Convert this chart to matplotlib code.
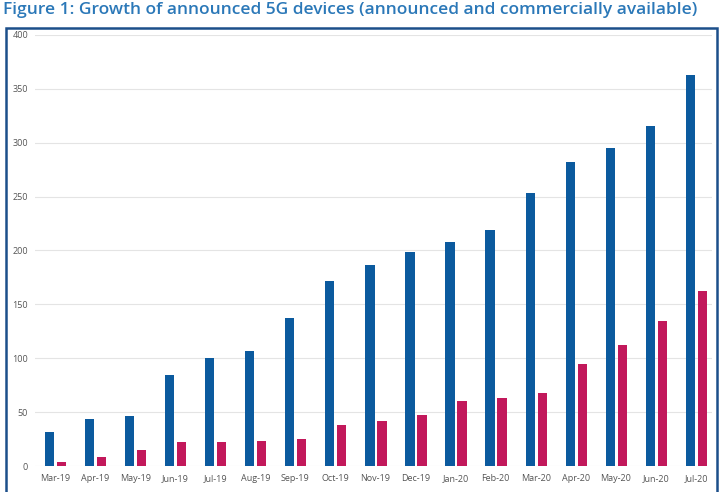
import matplotlib
matplotlib.use("Agg")
import matplotlib.pyplot as plt
import numpy as np
from matplotlib.patches import Rectangle

months = ["Mar-19", "Apr-19", "May-19", "Jun-19", "Jul-19", "Aug-19", "Sep-19",
          "Oct-19", "Nov-19", "Dec-19", "Jan-20", "Feb-20", "Mar-20", "Apr-20",
          "May-20", "Jun-20", "Jul-20"]
announced = [32, 44, 46, 84, 100, 107, 137, 172, 187, 199, 208, 219, 253, 282, 295, 316, 363]
available = [4, 8, 15, 22, 22, 23, 25, 38, 42, 47, 60, 63, 68, 95, 112, 135, 162]
yticks = [0, 50, 100, 150, 200, 250, 300, 350, 400]

blue = "#0b5a9e"
pink = "#c2185b"

plt.rcParams['font.family'] = ['Open Sans', 'DejaVu Sans']

fig = plt.figure(figsize=(7.21, 4.92), dpi=100)
ax = fig.add_axes([35/721, 26/492, 677/721, 431/492])

x = np.arange(len(months))
w = 0.23
ax.bar(x - 0.14, announced, width=w, color=blue, zorder=3)
ax.bar(x + 0.16, available, width=w, color=pink, zorder=3)

ax.set_xlim(-0.5, 16.4)
ax.set_ylim(0, 400)
ax.set_yticks(yticks)
ax.set_xticks(x)
ax.set_xticklabels(months)
ax.tick_params(axis="both", length=0, labelsize=6.5, labelcolor="#555555")
ax.tick_params(axis="y", pad=5)
ax.tick_params(axis="x", pad=6)
ax.grid(axis="y", color="#e4e4e4", linewidth=0.8, zorder=0)
for s in ax.spines.values():
    s.set_visible(False)

# blue frame round the chart
fig.patches.append(Rectangle((6/721, -0.05), 711/721, 1.05 - 28/492,
                             transform=fig.transFigure, fill=False,
                             edgecolor="#1c4f8a", linewidth=1.8))

fig.text(3/721, 1.0 - 14/492, "Figure 1: Growth of announced 5G devices (announced and commercially available)",
         color="#2b78b8", fontsize=12.5, fontweight="semibold", ha="left", va="baseline")

fig.savefig("out.png", dpi=100)
